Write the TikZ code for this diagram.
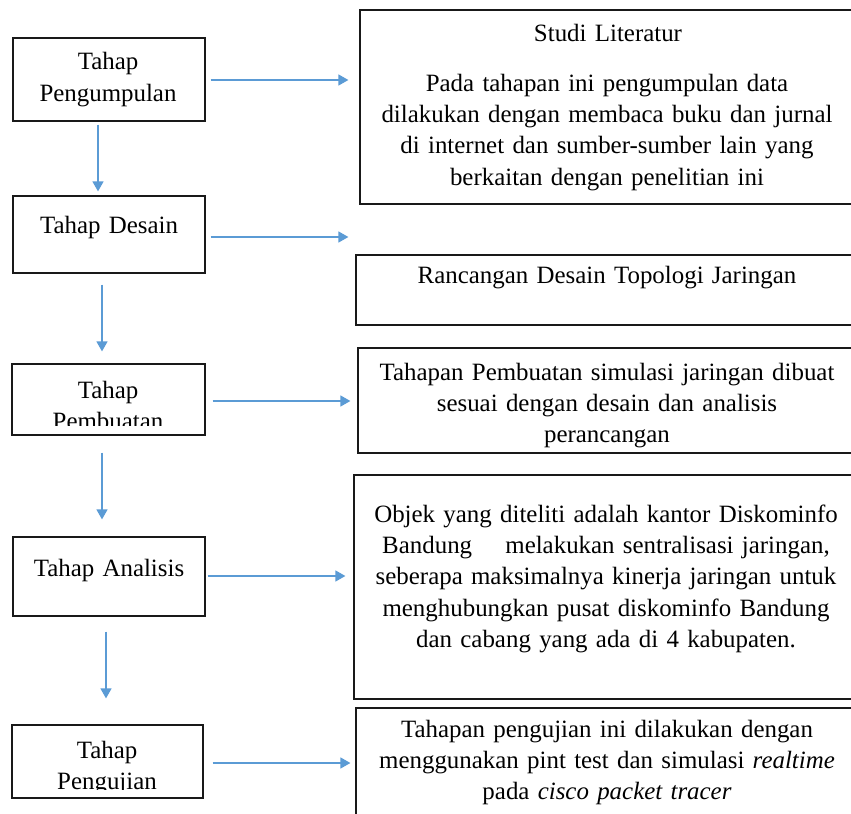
\documentclass[tikz,border=0pt]{standalone}
\usepackage{fontspec}
\setmainfont{Liberation Serif}
\usetikzlibrary{arrows.meta,calc}

\definecolor{flowblue}{HTML}{5B9BD5}

\tikzset{
  stage/.style={draw=black!90, line width=1.2bp, rectangle, inner sep=0pt},
  flow/.style={draw=flowblue, line width=1.4bp,
    -{Triangle[length=10bp,width=11bp]}},
  txt/.style={font=\fontsize{25}{31.5}\selectfont, align=center,
    inner sep=0pt, anchor=base},
}

\begin{document}
\begin{tikzpicture}[x=1bp,y=-1bp]
\useasboundingbox (0,0) rectangle (851,814);
\fill[white] (0,0) rectangle (851,814);

% left column: the five stages
\node[stage, minimum width=192bp, minimum height=83bp] (l1) at (109,79.5) {};
\node[stage, minimum width=192bp, minimum height=77bp] (l2) at (109,234.5) {};
\node[stage, minimum width=193bp, minimum height=71bp] (l3) at (108.5,399.5) {};
\node[stage, minimum width=192bp, minimum height=79bp] (l4) at (109,576.5) {};
\node[stage, minimum width=191bp, minimum height=73bp] (l5) at (107.5,761.5) {};

% right column: description of each stage
\node[stage, minimum width=493bp, minimum height=194bp] (r1) at (606.5,107) {};
\node[stage, minimum width=497bp, minimum height=70bp] (r2) at (604.5,290) {};
\node[stage, minimum width=495bp, minimum height=105bp] (r3) at (605.5,400.5) {};
\node[stage, minimum width=499bp, minimum height=224bp] (r4) at (603.5,587) {};
\node[stage, minimum width=497bp, minimum height=112bp] (r5) at (604.5,764) {};

% stage labels
\node[txt, text width=190bp] (t1) at (108,70) {Tahap\\Pengumpulan};
\node[txt, text width=190bp] (t2) at (109,233) {Tahap Desain};
\begin{scope}
  \clip (12,364) rectangle (205,425);
  \node[txt, text width=190bp] (t3) at (108,398) {Tahap\\Pembuatan};
\end{scope}
\node[txt, text width=190bp] (t4) at (109,576) {Tahap Analisis};
\begin{scope}
  \clip (12,725) rectangle (203,789);
  \node[txt, text width=190bp] (t5) at (107,758) {Tahap\\Pengujian};
\end{scope}

% descriptions
\node[txt, text width=490bp] (s0) at (608,42) {Studi Literatur};
\node[txt, text width=490bp] (s1) at (607,91) {Pada tahapan ini pengumpulan data\\
  dilakukan dengan membaca buku dan jurnal\\
  di internet dan sumber-sumber lain yang\\
  berkaitan dengan penelitian ini};
\node[txt, text width=490bp] (s2) at (607,283) {Rancangan Desain Topologi Jaringan};
\node[txt, text width=490bp] (s3) at (607,380) {Tahapan Pembuatan simulasi jaringan dibuat\\
  sesuai dengan desain dan analisis\\
  perancangan};
\node[txt, text width=490bp] (s4) at (606,522) {Objek yang diteliti adalah kantor Diskominfo\\
  Bandung \quad melakukan sentralisasi jaringan,\\
  seberapa maksimalnya kinerja jaringan untuk\\
  menghubungkan pusat diskominfo Bandung\\
  dan cabang yang ada di 4 kabupaten.};
\node[txt, text width=490bp] (s5) at (607,737) {Tahapan pengujian ini dilakukan dengan\\
  menggunakan pint test dan simulasi \textit{realtime}\\
  pada \textit{cisco packet tracer}};

% arrows down the stages
\draw[flow] ($(l1.south)+(-11,3)$) -- ($(l2.north)+(-11,-4)$);
\draw[flow] ($(l2.south)+(-7,11)$) -- ($(l3.north)+(-6.5,-12)$);
\draw[flow] ($(l3.south)+(-6.5,17)$) -- ($(l4.north)+(-7,-17)$);
\draw[flow] ($(l4.south)+(-3,15)$) -- ($(l5.north)+(-1.5,-26)$);

% arrows from each stage to its description
\draw[flow] ($(l1.east)+(5,0.5)$) -- ($(l1.east -| r1.west)+(-11,0.5)$);
\draw[flow] ($(l2.east)+(5,2.5)$) -- ($(l2.east -| r2.west)+(-7,2.5)$);
\draw[flow] ($(l3.east)+(7,1.5)$) -- ($(l3.east -| r3.west)+(-7,1.5)$);
\draw[flow] ($(l4.east)+(2,-0.5)$) -- ($(l4.east -| r4.west)+(-8,-0.5)$);
\draw[flow] ($(l5.east)+(9,1.5)$) -- ($(l5.east -| r5.west)+(-5,1.5)$);
\end{tikzpicture}
\end{document}
